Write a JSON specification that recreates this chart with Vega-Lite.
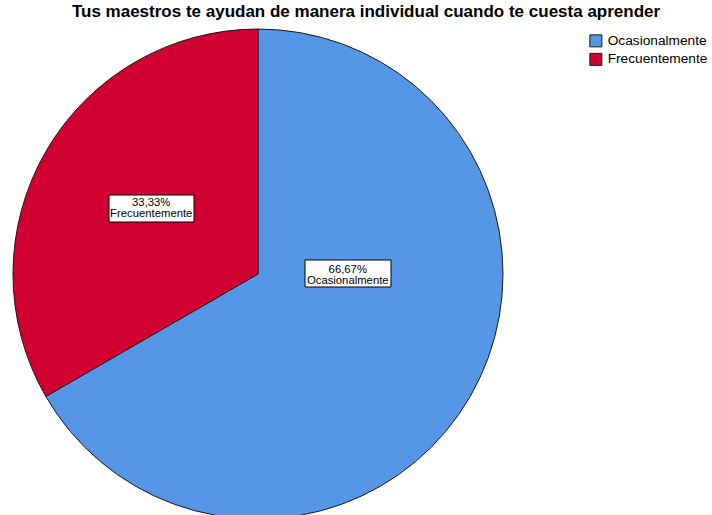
{
  "$schema": "https://vega.github.io/schema/vega-lite/v6.json",
  "width": 490,
  "height": 490,
  "autosize": {"type": "none"},
  "padding": {"left": 13, "top": 29, "right": 209, "bottom": 0},
  "background": "white",
  "title": {
    "text": "Tus maestros te ayudan de manera individual cuando te cuesta aprender",
    "font": "Liberation Sans",
    "fontSize": 17,
    "fontWeight": "bold",
    "color": "#000000",
    "anchor": "middle",
    "frame": "group",
    "dx": 108,
    "offset": 6
  },
  "data": {
    "values": [
      {"category": "Ocasionalmente", "percent": 66.67, "ord": 1},
      {"category": "Frecuentemente", "percent": 33.33, "ord": 2}
    ]
  },
  "transform": [
    {"calculate": "[replace(format(datum.percent, '.2f'), '.', ',') + '%', datum.category]", "as": "label"}
  ],
  "encoding": {
    "theta": {"field": "percent", "type": "quantitative", "stack": true},
    "order": {"field": "ord", "type": "quantitative", "sort": "ascending"}
  },
  "layer": [
    {
      "mark": {"type": "arc", "stroke": "#1a1a1a", "strokeWidth": 1},
      "encoding": {
        "color": {
          "field": "category",
          "type": "nominal",
          "sort": ["Ocasionalmente", "Frecuentemente"],
          "scale": {"domain": ["Ocasionalmente", "Frecuentemente"], "range": ["#5596e6", "#d20032"]},
          "legend": {
            "title": null,
            "orient": "none",
            "legendX": 576,
            "legendY": 5,
            "symbolType": "square",
            "symbolSize": 144,
            "symbolStrokeColor": "#1a1a1a",
            "symbolStrokeWidth": 1,
            "symbolOpacity": 1,
            "labelFont": "Liberation Sans",
            "labelFontSize": 13.7,
            "labelColor": "#000000",
            "labelOffset": 5,
            "rowPadding": 1.5,
            "padding": 0
          }
        }
      }
    },
    {
      "mark": {"type": "point", "shape": "M-149,-79H-64V-52H-149Z M47,-14H133V13H47Z", "size": 4, "filled": true, "fill": "white", "stroke": "#000000", "strokeWidth": 1},
      "encoding": {
        "opacity": {"condition": {"test": "datum.category === 'Ocasionalmente'", "value": 1}, "value": 0}
      }
    },
    {
      "mark": {"type": "text", "radius": 125.6, "dx": 2, "dy": -8, "font": "Liberation Sans", "fontSize": 11.3, "color": "#000000", "align": "center", "baseline": "middle", "lineHeight": 11},
      "encoding": {
        "text": {"condition": {"test": "datum.category === 'Frecuentemente'", "field": "label"}, "value": ""}
      }
    },
    {
      "mark": {"type": "text", "radius": 125.6, "dx": -19, "dy": -66.8, "font": "Liberation Sans", "fontSize": 11.3, "color": "#000000", "align": "center", "baseline": "middle", "lineHeight": 11},
      "encoding": {
        "text": {"condition": {"test": "datum.category === 'Ocasionalmente'", "field": "label"}, "value": ""}
      }
    }
  ],
  "config": {"view": {"stroke": null}}
}
